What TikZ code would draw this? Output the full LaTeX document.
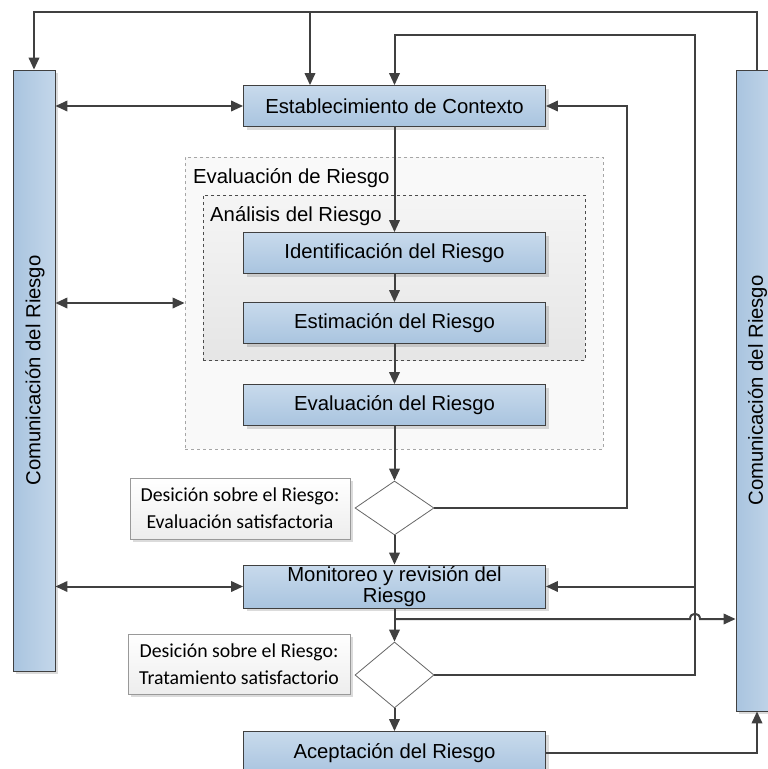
\documentclass[tikz,border=0pt]{standalone}
\usepackage{fontspec}
\setmainfont{Liberation Sans}
\newfontfamily\notefont{Carlito}
\usetikzlibrary{arrows.meta,shapes.geometric,shadows,calc}

\definecolor{lineclr}{HTML}{404040}
\definecolor{boxtop}{HTML}{C8DAEC}
\definecolor{boxbot}{HTML}{A9C4DF}
\definecolor{barleft}{HTML}{A9C4DF}
\definecolor{barright}{HTML}{C4D7EA}

\newcommand{\mainsize}{\fontsize{20.3}{22}\selectfont}

\tikzset{
  boxshadow/.style={drop shadow={shadow xshift=3pt,shadow yshift=-3pt,fill=black,opacity=0.14}},
  stepbox/.style={draw=lineclr,line width=0.8pt,top color=boxtop,bottom color=boxbot,
    boxshadow,minimum width=302pt,minimum height=41pt,inner sep=0pt,
    font=\mainsize,align=center},
  sidebar/.style={draw=lineclr,line width=0.8pt,left color=barleft,right color=barright,
    boxshadow,inner sep=0pt},
  bartext/.style={font=\mainsize,rotate=90,inner sep=0pt},
  notebox/.style={draw=gray!80,line width=0.8pt,top color=white,bottom color=black!7,
    boxshadow,inner sep=0pt,font=\notefont\fontsize{19.8}{27}\selectfont,align=center},
  decision/.style={diamond,draw=gray!80!black,line width=0.8pt,fill=white,aspect=1.5,
    inner sep=0pt,minimum width=79pt,minimum height=54pt},
  groupbox/.style={draw=gray!70,dashed,line width=0.8pt,inner sep=0pt},
  grouplabel/.style={font=\mainsize,anchor=base west,inner sep=0pt},
  arr/.style={draw=lineclr,line width=2pt,-{Triangle[length=12pt,width=10.5pt]}},
  darr/.style={draw=lineclr,line width=2pt,{Triangle[length=12pt,width=10.5pt]}-{Triangle[length=12pt,width=10.5pt]}}
}

\begin{document}
\begin{tikzpicture}[x=1pt,y=-1pt]
\useasboundingbox (0,0) rectangle (768,769);
\clip (0,0) rectangle (768,769);

% nested assessment groups
\node[groupbox,fill=black!2.5,minimum width=418pt,minimum height=292pt] (eval) at (394,303) {};
\node[groupbox,draw=black!70,top color=black!4,bottom color=black!10,minimum width=382pt,minimum height=165pt] (anal) at (394,277.5) {};
\node[grouplabel] (evallbl) at (193,183) {Evaluación de Riesgo};
\node[grouplabel] (anallbl) at (210,221) {Análisis del Riesgo};

% side communication bars
\node[sidebar,minimum width=42pt,minimum height=601pt] (lbar) at (34,370.5) {};
\node[bartext] (lbartxt) at (35,370.5) {Comunicación del Riesgo};
\node[sidebar,minimum width=42pt,minimum height=641pt] (rbar) at (757,390.5) {};
\node[bartext] (rbartxt) at (757.5,390.5) {Comunicación del Riesgo};

% process steps
\node[stepbox] (ctx) at (394.5,106) {Establecimiento de Contexto};
\node[stepbox] (ident) at (394.5,253) {Identificación del Riesgo};
\node[stepbox] (estim) at (394.5,323) {Estimación del Riesgo};
\node[stepbox] (evalr) at (394.5,405) {Evaluación del Riesgo};
\node[stepbox,minimum height=43pt] (mon) at (394.5,586.5) {Monitoreo y revisión del\\[-1pt]Riesgo};
\node[stepbox,minimum height=43pt] (acc) at (394.5,753) {Aceptación del Riesgo};

% decisions and their notes
\node[decision] (d1) at (394.5,508) {};
\node[decision,minimum height=66pt] (d2) at (394.5,675) {};
\node[notebox,minimum width=220pt,minimum height=61pt] (n1) at (240,508.5) {Desición sobre el Riesgo:\\Evaluación satisfactoria};
\node[notebox,minimum width=222pt,minimum height=60pt] (n2) at (239,664) {Desición sobre el Riesgo:\\Tratamiento satisfactorio};

% helper coordinates for routed connectors
\coordinate (top) at (0,12);
\coordinate (second) at (695,35);
\coordinate (loop1) at (627,0);
\coordinate (branch) at (0,619);

% top feedback line from the right bar
\draw[arr] (rbar.north) -- (rbar.north |- top) -- (lbar.north |- top) -- (lbar.north);
\draw[arr] ([xshift=-84.5pt]ctx.north |- top) -- ([xshift=-84.5pt]ctx.north);

% main flow
\draw[arr] (ctx.south) -- (ident.north);
\draw[arr] (ident.south) -- (estim.north);
\draw[arr] (estim.south) -- (evalr.north);
\draw[arr] (evalr.south) -- (d1.north);
\draw[arr] (d1.south) -- (mon.north);
\draw[arr] (mon.south) -- (d2.north);
\draw[arr] (d2.south) -- (acc.north);

% loops back
\draw[arr] (d1.east) -- (d1.east -| loop1) |- (ctx.east);
\draw[arr] (d2.east) -| (second) -| (ctx.north);
\draw[arr] (mon.east -| second) -- (mon.east);

% monitoring output to the right bar, hopping over the loop line
\draw[arr] (mon.south |- branch) -- ($(second |- branch)+(-5,0)$)
  .. controls +(0,-7) and +(0,-7) .. ($(second |- branch)+(5,0)$) -- (rbar.west |- branch);

% acceptance to the right bar
\draw[arr] (acc.east) -| (rbar.south);

% communication links
\draw[darr] (lbar.east |- ctx.west) -- (ctx.west);
\draw[darr] (lbar.east |- eval.west) -- (eval.west);
\draw[darr] (lbar.east |- mon.west) -- (mon.west);
\end{tikzpicture}
\end{document}
